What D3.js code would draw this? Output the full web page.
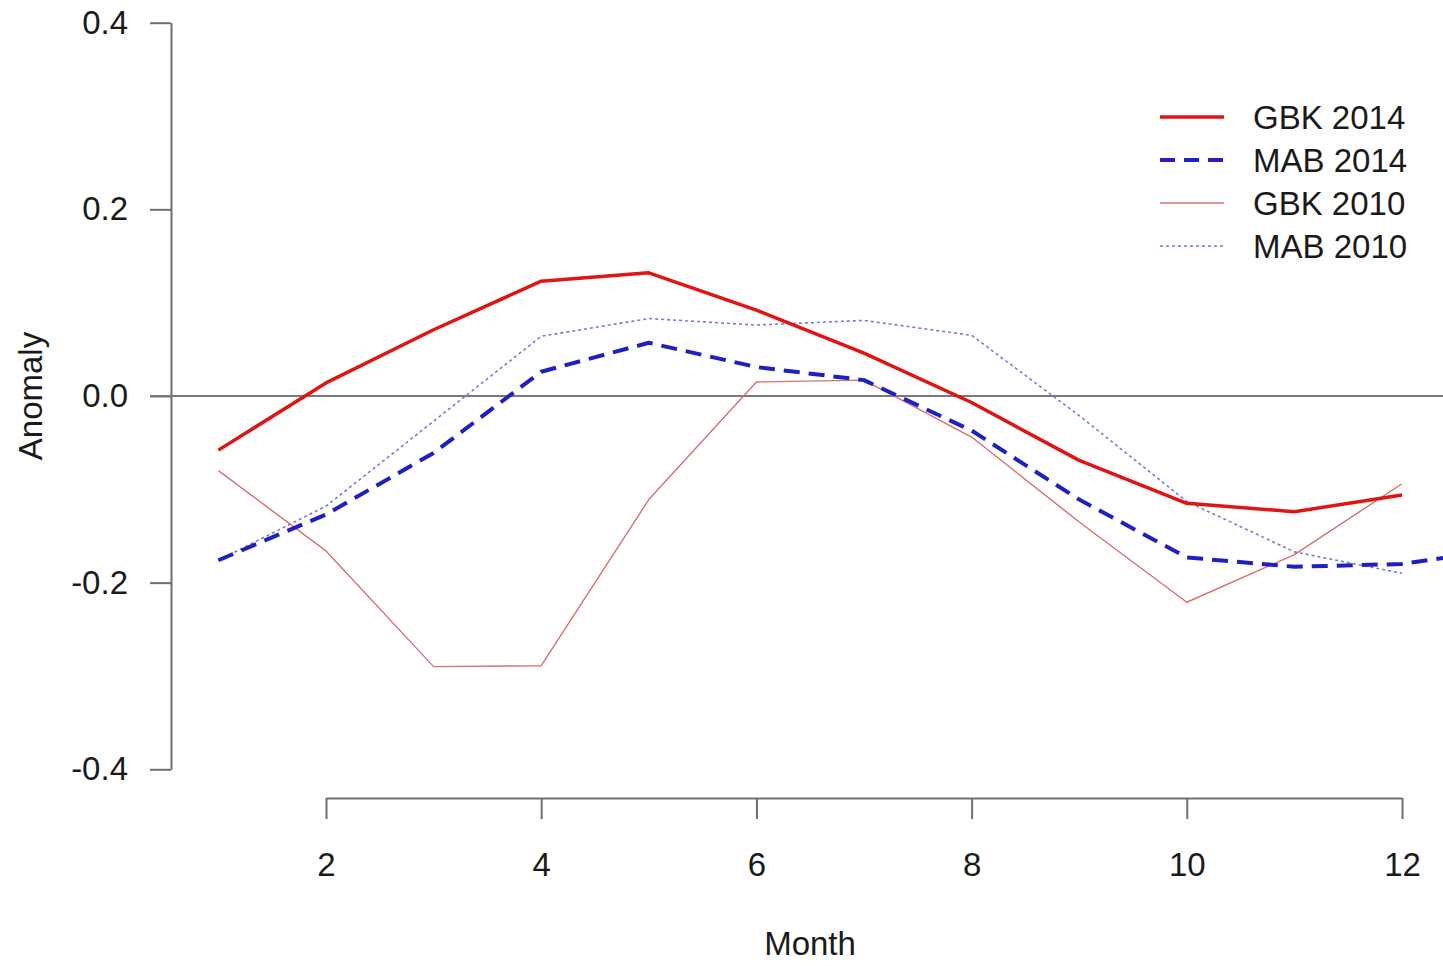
<!DOCTYPE html>
<html>
<head>
<meta charset="utf-8">
<script src="https://cdn.jsdelivr.net/npm/d3@7"></script>
<style>
  html, body { margin: 0; padding: 0; background: #fff; }
  svg { display: block; font-family: "Liberation Sans", Arial, Helvetica, sans-serif; }
  .axis path, .axis line { stroke: #6e6e6e; stroke-width: 2; }
  .axis text { fill: #1a1a1a; font-size: 33px; }
  .lbl { fill: #1a1a1a; font-size: 33px; }
</style>
</head>
<body>
<svg id="chart"></svg>
<script>
// monthly anomalies
const months = [1, 2, 3, 4, 5, 6, 7, 8, 9, 10, 11, 12];
const gbk2014 = [-0.058, 0.014, 0.071, 0.123, 0.132, 0.092, 0.046, -0.007, -0.069, -0.115, -0.124, -0.106];
const mab2014 = [-0.176, -0.127, -0.061, 0.026, 0.057, 0.031, 0.017, -0.037, -0.111, -0.173, -0.183, -0.180, -0.163];
const gbk2010 = [-0.080, -0.166, -0.290, -0.289, -0.111, 0.015, 0.017, -0.044, -0.135, -0.221, -0.170, -0.094];
const mab2010 = [-0.176, -0.118, -0.027, 0.064, 0.083, 0.076, 0.081, 0.065, -0.021, -0.113, -0.167, -0.190];
const xTicks = [2, 4, 6, 8, 10, 12];
const yTicks = [-0.4, -0.2, 0.0, 0.2, 0.4];
const legendLabels = ['GBK 2014', 'MAB 2014', 'GBK 2010', 'MAB 2010'];

const W = 1443, H = 966;
const svg = d3.select('#chart').attr('width', W).attr('height', H);

// scales (plot box runs off the right edge of the picture)
const x = d3.scaleLinear().domain([2, 12]).range([326, 1402]);
const y = d3.scaleLinear().domain([-0.4, 0.4]).range([769.3, 22.7]);
const plotLeft = 150, plotBottom = 798;

svg.append('defs').append('clipPath').attr('id', 'plot-clip')
  .append('rect').attr('x', plotLeft).attr('y', 0)
  .attr('width', W - plotLeft).attr('height', plotBottom);

// y axis
const yAxis = d3.axisLeft(y).tickValues(yTicks).tickSize(21).tickSizeOuter(0).tickPadding(22)
  .tickFormat(d3.format('.1f'));
svg.append('g').attr('class', 'axis').attr('transform', 'translate(171,0)').call(yAxis)
  .call(g => g.selectAll('text').text(d => d3.format('.1f')(d).replace('−', '-')));

// x axis
const xAxis = d3.axisBottom(x).tickValues(xTicks).tickSize(21).tickSizeOuter(0).tickPadding(34);
svg.append('g').attr('class', 'axis').attr('transform', `translate(0,${plotBottom})`).call(xAxis);

svg.selectAll('.axis .domain').attr('stroke', '#6e6e6e');

// axis titles
svg.append('text').attr('class', 'lbl').attr('text-anchor', 'middle')
  .attr('x', 810).attr('y', 955).text('Month');
svg.append('text').attr('class', 'lbl').attr('text-anchor', 'middle')
  .attr('transform', 'translate(42,396) rotate(-90)').text('Anomaly');

const plot = svg.append('g').attr('clip-path', 'url(#plot-clip)');

// zero reference line
plot.append('line')
  .attr('x1', plotLeft).attr('x2', W)
  .attr('y1', y(0)).attr('y2', y(0))
  .attr('stroke', '#7a7a7a').attr('stroke-width', 2);

const series = [
  { name: legendLabels[0], values: gbk2014, color: '#e31414', width: 3.5, dash: null },
  { name: legendLabels[1], values: mab2014, color: '#1f1fc4', width: 4, dash: '16,9' },
  { name: legendLabels[2], values: gbk2010, color: '#d77272', width: 1.4, dash: null },
  { name: legendLabels[3], values: mab2010, color: '#7b7bd0', width: 1.6, dash: '3,3' }
];

const line = d3.line().x(d => x(d[0])).y(d => y(d[1]));

// draw thin ones first, thick ones on top
[2, 3, 1, 0].forEach(i => {
  const s = series[i];
  const pts = s.values.map((v, j) => [j + 1, v]);
  plot.append('path')
    .attr('d', line(pts))
    .attr('fill', 'none')
    .attr('stroke', s.color)
    .attr('stroke-width', s.width)
    .attr('stroke-dasharray', s.dash)
    .attr('stroke-linejoin', 'round');
});

// legend
const legend = svg.append('g').attr('transform', 'translate(1160,117)');
series.forEach((s, i) => {
  const row = legend.append('g').attr('transform', `translate(0,${i * 43})`);
  row.append('line').attr('x1', 0).attr('x2', 64).attr('y1', 0).attr('y2', 0)
    .attr('stroke', s.color).attr('stroke-width', s.width)
    .attr('stroke-dasharray', s.dash === '16,9' ? '15,9' : s.dash);
  row.append('text').attr('class', 'lbl').attr('x', 93).attr('y', 0).attr('dy', '0.35em')
    .text(s.name);
});
</script>
</body>
</html>
